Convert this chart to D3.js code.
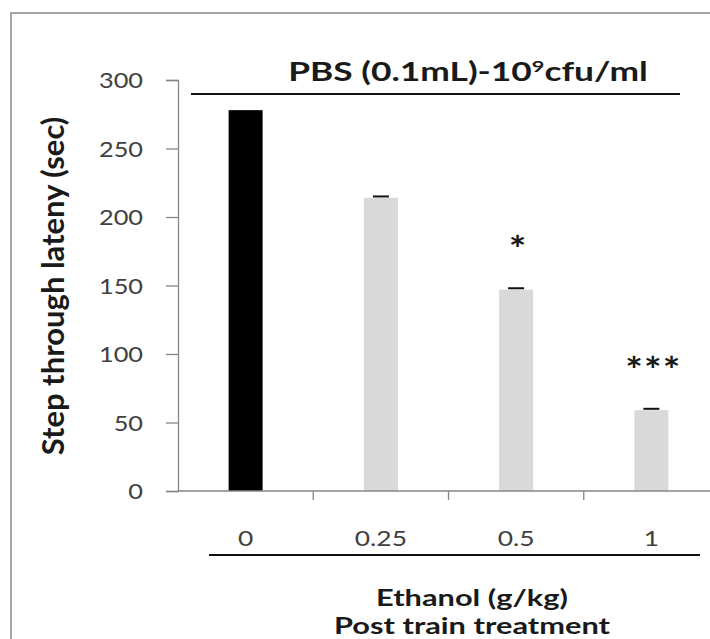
<!DOCTYPE html>
<head>
    <meta charset="utf-8">
    <style>
        body { margin: 0; background: #fff; }
        text { font-family: Lato, "Open Sans", sans-serif; }
        .tick text { fill: #404040; }
        .bold { font-weight: bold; fill: #1a1a1a; }
    </style>
</head>
<body>
    <div id="chart"></div>
    <script src="https://d3js.org/d3.v7.min.js"></script>
    <script>
        // values
        var doses = ["0", "0.25", "0.5", "1"];
        var latency = [278, 214, 147, 59];
        var sem = [0, 1, 1, 1];
        var stars = ["", "", "*", "***"];
        var yTicks = [0, 50, 100, 150, 200, 250, 300];

        var W = 710, H = 639;

        var svg = d3.select("#chart").append("svg")
            .attr("width", W)
            .attr("height", H);

        // grey frame, cut off right and bottom
        svg.append("rect")
            .attr("x", 11).attr("y", 13)
            .attr("width", 720).attr("height", 650)
            .attr("fill", "none")
            .attr("stroke", "#a6a6a6")
            .attr("stroke-width", 2);

        var x = d3.scaleBand()
            .domain(doses)
            .range([178, 719])
            .padding(0);

        var y = d3.scaleLinear()
            .domain([0, 300])
            .range([491, 80]);

        var color = d3.scaleOrdinal()
            .domain(doses)
            .range(["#000000", "#d9d9d9", "#d9d9d9", "#d9d9d9"]);

        var barW = 34;

        function cx(i) { return x(doses[i]) + x.bandwidth() / 2; }

        // the picture's lettering is wide, so text gets stretched sideways
        function label(g, tx, ty, str, size, sx, cls) {
            return g.append("text")
                .attr("class", cls || null)
                .attr("transform", "translate(" + tx + "," + ty + ") scale(" + sx + ",1)")
                .attr("text-anchor", "middle")
                .attr("font-size", size)
                .text(str);
        }

        // y axis
        var yAxis = svg.append("g")
            .attr("transform", "translate(178,0)")
            .call(d3.axisLeft(y).tickValues(yTicks).tickSizeOuter(0).tickSize(12).tickPadding(23));
        yAxis.selectAll("path, line").attr("stroke", "#868686").attr("stroke-width", 1.3);
        yAxis.selectAll(".tick text")
            .attr("font-size", 22)
            .attr("dy", "0.36em")
            .attr("transform", "translate(-35,0) scale(1.15,1) translate(35,0)");

        // bars
        svg.selectAll(".bar")
            .data(latency)
            .enter().append("rect")
            .attr("class", "bar")
            .attr("x", function(d, i) { return cx(i) - barW / 2; })
            .attr("y", function(d) { return y(d); })
            .attr("width", barW)
            .attr("height", function(d) { return y(0) - y(d); })
            .attr("fill", function(d, i) { return color(doses[i]); });

        // error caps (the control one hides inside the black bar)
        latency.forEach(function(v, i) {
            if (!sem[i]) return;
            svg.append("line")
                .attr("class", "err")
                .attr("x1", cx(i) - 8).attr("x2", cx(i) + 8)
                .attr("y1", y(v + sem[i])).attr("y2", y(v + sem[i]))
                .attr("stroke", "#111")
                .attr("stroke-width", 2);
        });

        // x axis, ticks between the categories
        var xAxis = svg.append("g")
            .attr("transform", "translate(0," + y(0) + ")");
        xAxis.append("line")
            .attr("x1", 178).attr("x2", W)
            .attr("stroke", "#868686").attr("stroke-width", 1.3);
        xAxis.selectAll(".xt")
            .data(doses.slice(1))
            .enter().append("line")
            .attr("x1", function(d) { return x(d); })
            .attr("x2", function(d) { return x(d); })
            .attr("y1", 0).attr("y2", 9)
            .attr("stroke", "#868686").attr("stroke-width", 1.3);

        doses.forEach(function(d, i) {
            label(svg, cx(i), 546, d, 22, 1.2).attr("fill", "#404040");
        });

        // significance marks
        latency.forEach(function(v, i) {
            if (!stars[i]) return;
            label(svg, cx(i) + 2, y(v + sem[i]) - 26, stars[i], 36, 1.15, "bold")
                .attr("letter-spacing", 1);
        });

        // title with rule under it
        var t = label(svg, 468, 81, "PBS (0.1mL)-10", 26, 1.36, "bold");
        t.append("tspan").attr("baseline-shift", "super").attr("font-size", 16).text("9");
        t.append("tspan").text("cfu/ml");
        svg.append("line")
            .attr("x1", 191).attr("x2", 680)
            .attr("y1", 94).attr("y2", 94)
            .attr("stroke", "#111").attr("stroke-width", 2);

        // rule under the doses
        svg.append("line")
            .attr("x1", 209).attr("x2", 700)
            .attr("y1", 555).attr("y2", 555)
            .attr("stroke", "#111").attr("stroke-width", 2);

        label(svg, 472, 606, "Ethanol (g/kg)", 22, 1.4, "bold");
        label(svg, 472, 634, "Post train treatment", 22, 1.4, "bold");

        // y title, rotated
        svg.append("text")
            .attr("class", "bold")
            .attr("transform", "rotate(-90)")
            .attr("x", -286)
            .attr("y", 64)
            .attr("text-anchor", "middle")
            .attr("font-size", 31)
            .text("Step through lateny (sec)");
    </script>
</body>
